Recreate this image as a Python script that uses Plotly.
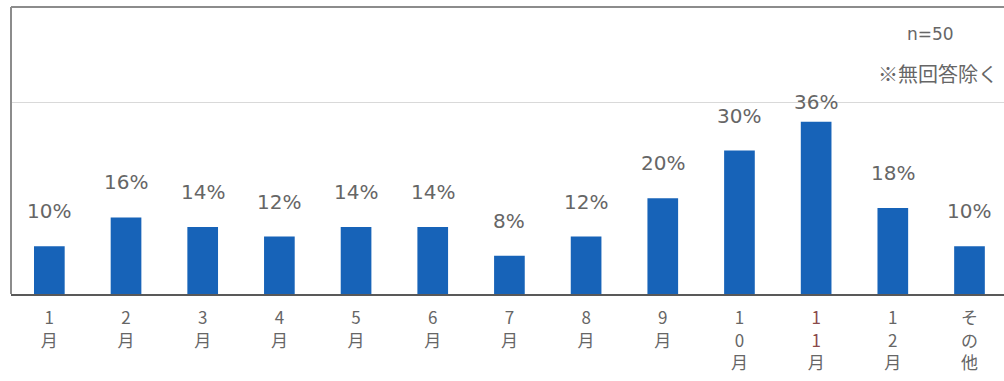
import plotly.graph_objects as go

# Survey: month of the year chosen (n=50, no-answer excluded)
categories = ["1月", "2月", "3月", "4月", "5月", "6月", "7月", "8月", "9月",
              "10月", "11月", "12月", "その他"]
values = [10, 16, 14, 12, 14, 14, 8, 12, 20, 30, 36, 18, 10]

CJK = "Noto Sans CJK JP"
LATIN = "DejaVu Sans"
GREY = "#666666"
BAR = "#1763b8"


def vertical(label):
    """Stack the characters of a label top to bottom."""
    chars = list(label)
    if label == "11月":
        chars = ['<span style="color:#8a4a4a">1</span>'] * 2 + ["月"]
    return "<br>".join(chars)


tick_text = [vertical(c) for c in categories]
x_pos = list(range(len(categories)))

fig = go.Figure(
    go.Bar(
        x=x_pos,
        y=values,
        width=0.40,
        marker=dict(color=BAR, line=dict(width=0)),
        hoverinfo="skip",
    )
)

# value labels floating above each bar (the tallest one sits lower, under the frame text)
label_annotations = []
for xi, v in zip(x_pos, values):
    label_annotations.append(
        dict(x=xi, y=v, xref="x", yref="y", text=f"{v}%",
             showarrow=False, xanchor="center", yanchor="middle",
             yshift=20 if v == max(values) else 35,
             font=dict(family=LATIN, size=20, color=GREY))
    )

fig.update_layout(
    width=1004,
    height=381,
    margin=dict(l=11, r=0, t=7, b=87),
    paper_bgcolor="white",
    plot_bgcolor="white",
    showlegend=False,
    font=dict(family=CJK, color=GREY),
    xaxis=dict(
        range=[-0.5, 12.45],
        tickmode="array",
        tickvals=x_pos,
        ticktext=tick_text,
        tickfont=dict(family=CJK, size=17, color=GREY),
        ticks="",
        ticklabelstandoff=8,
        showline=True,
        linecolor="#595959",
        linewidth=2,
        showgrid=False,
        zeroline=False,
        fixedrange=True,
    ),
    yaxis=dict(
        range=[0, 60],
        tickvals=[40],
        showticklabels=False,
        showgrid=True,
        gridcolor="#d9d9d9",
        gridwidth=1,
        zeroline=False,
        showline=False,
        fixedrange=True,
    ),
    shapes=[
        # frame: top edge and left edge of the plot area
        dict(type="line", xref="paper", yref="paper", x0=0, x1=1, y0=1, y1=1,
             line=dict(color="#8c8c8c", width=2)),
        dict(type="line", xref="paper", yref="paper", x0=0, x1=0, y0=0, y1=1,
             line=dict(color="#8c8c8c", width=2)),
    ],
    annotations=label_annotations + [
        dict(text="n=50", xref="paper", yref="paper", x=0.926, y=0.905,
             xanchor="center", yanchor="middle", showarrow=False,
             font=dict(family=LATIN, size=17, color=GREY)),
        dict(text="※無回答除く", xref="paper", yref="paper", x=0.996, y=0.77,
             xanchor="right", yanchor="middle", showarrow=False,
             font=dict(family=CJK, size=20, color=GREY)),
    ],
)

fig.write_html("out.html")
